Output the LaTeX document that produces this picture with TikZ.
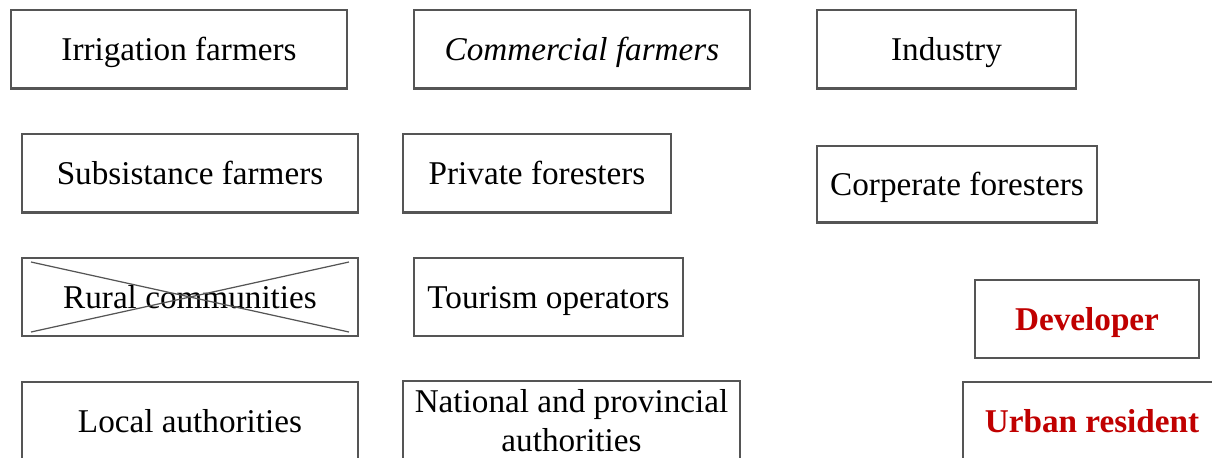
\documentclass[tikz,border=0pt]{standalone}
\usepackage{fontspec}
\setmainfont{Liberation Serif}
\usetikzlibrary{positioning}
\definecolor{boxline}{RGB}{85,85,85}
\definecolor{textred}{RGB}{192,0,0}

\begin{document}
\begin{tikzpicture}[
    x=0.02cm, y=-0.02cm,
    box/.style={rectangle, draw=boxline, line width=1.15pt, align=center, inner sep=0pt, minimum width=6.72cm, minimum height=1.58cm, text height=12.9pt, text depth=0pt, font=\fontsize{18.9}{22.2}\selectfont},
    midbox/.style={box, minimum width=5.37cm},
    redbox/.style={box, font=\fontsize{18.9}{22.2}\selectfont\bfseries\color{textred}},
    cross/.style={draw=boxline, line width=0.7pt}
]
    \clip (0,0) rectangle (1212,457);
    % first row
    \node[box] (irr) at (179,49) {Irrigation farmers};
    \node[box] (com) at (582,49) {\itshape Commercial farmers};
    \node[box, minimum width=5.18cm] (ind) at (946.5,49) {Industry};
    % second row
    \node[box] (sub) at (190,173) {Subsistance farmers};
    \node[midbox] (pf) at (537,173) {Private foresters};
    \node[box, minimum width=5.6cm, minimum height=1.54cm] (cf) at (957,184) {Corperate foresters};
    % third row
    \node[box, minimum height=1.56cm] (rural) at (190,297) {Rural communities};
    \node[midbox, minimum height=1.56cm] (tour) at (548.5,297) {Tourism operators};
    \node[redbox, minimum width=4.48cm, minimum height=1.56cm] (dev) at (1087,319) {Developer};
    % last row
    \node[box] (local) at (190,421) {Local authorities};
    \node[box, minimum width=6.74cm, text height=, text depth=] (nat) at (571.5,420.5) {National and provincial\\authorities};
    \node[redbox, minimum width=5.16cm] (urban) at (1092,421) {Urban resident};

    \draw[cross] ([shift={(10,5)}]rural.north west) -- ([shift={(-10,-5)}]rural.south east);
    \draw[cross] ([shift={(10,-5)}]rural.south west) -- ([shift={(-10,5)}]rural.north east);
\end{tikzpicture}
\end{document}
